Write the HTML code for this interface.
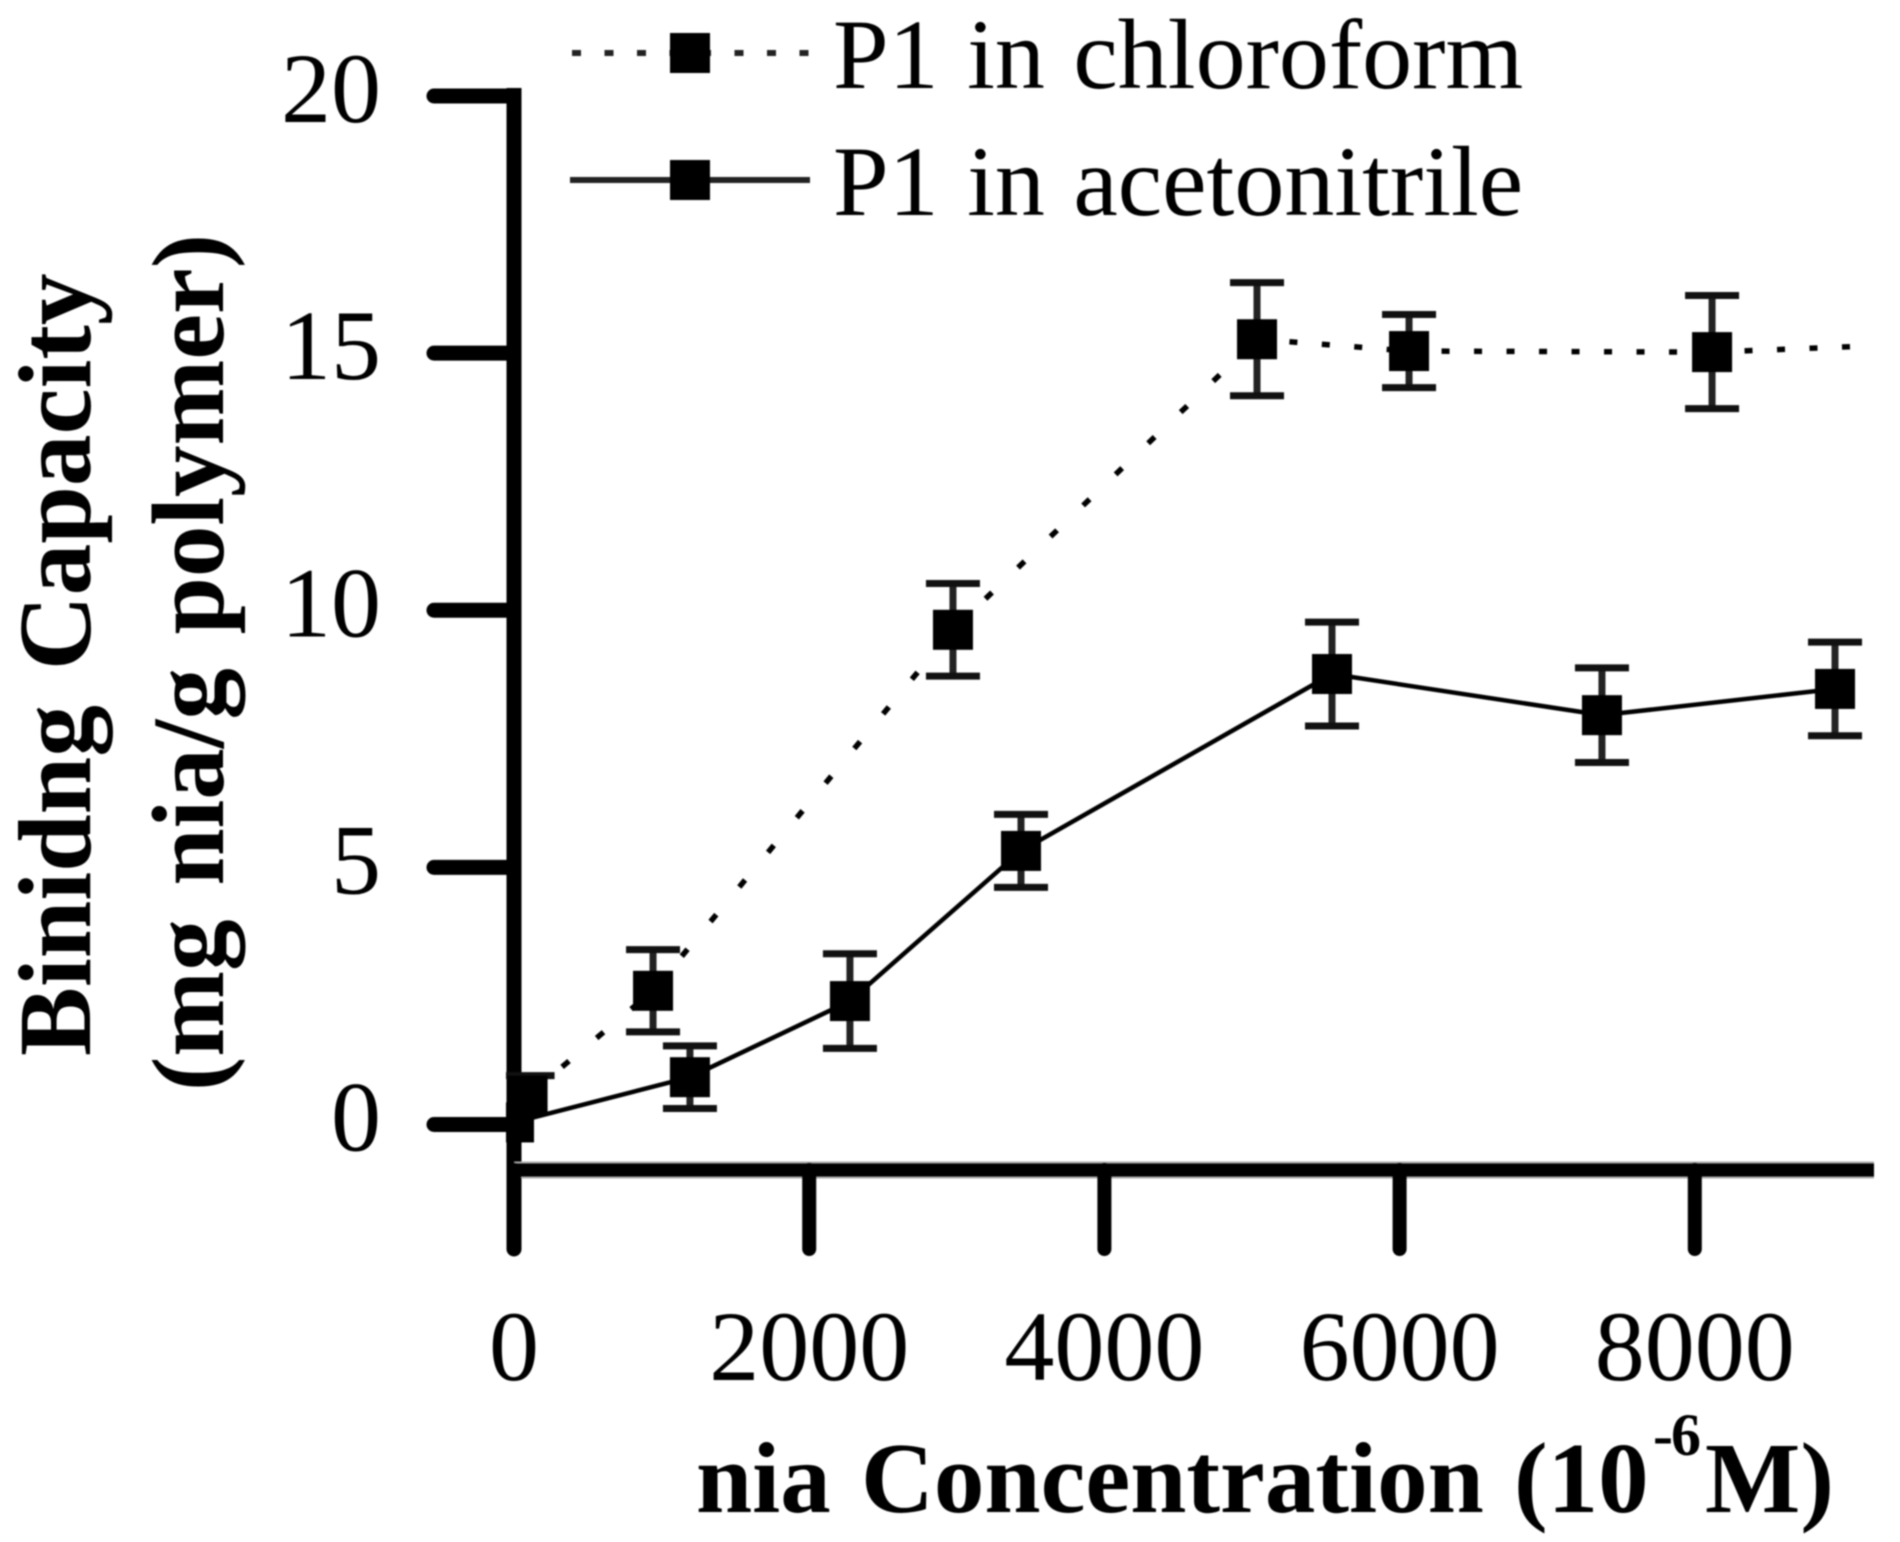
<!DOCTYPE html>
<html lang="en">
<head>
<meta charset="utf-8">
<title>Binding Capacity vs nia Concentration</title>
<style>
html,body{margin:0;padding:0;background:#fff;}
body{width:1900px;height:1542px;overflow:hidden;}
svg{display:block;filter:blur(0.9px);}
text{font-family:"Liberation Serif",serif;fill:#000;}
</style>
</head>
<body>
<svg id="chart" xmlns="http://www.w3.org/2000/svg" width="1900" height="1542" viewBox="0 0 1900 1542">
  <defs><clipPath id="plot-clip"><rect x="506" y="0" width="1362" height="1542"/></clipPath></defs>
  <g id="axes"></g>
  <g id="marks" clip-path="url(#plot-clip)"></g>

  <text transform="translate(90,1056) rotate(-90)" font-size="103.5" font-weight="bold" word-spacing="9">Binidng Capacity</text>
  <text transform="translate(223,1091) rotate(-90)" font-size="103" font-weight="bold" word-spacing="8">(mg nia/g polymer)</text>

  <text x="696" y="1512" font-size="101" font-weight="bold" word-spacing="5">nia Concentration (10</text>
  <text x="1653" y="1455" font-size="60" font-weight="bold" textLength="48" lengthAdjust="spacing">-6</text>
  <text x="1705" y="1512" font-size="101" font-weight="bold">M)</text>

  <g>
    <g>
      <line x1="572" y1="53" x2="809" y2="53" stroke="#222" stroke-width="6" stroke-dasharray="9 23.5"/>
      <rect x="670" y="33" width="40" height="40" fill="#000"/>
      <text x="833" y="88" font-size="100" word-spacing="3.5">P1 in chloroform</text>
    </g>
    <g>
      <line x1="570" y1="180" x2="810" y2="180" stroke="#222" stroke-width="6"/>
      <rect x="670" y="160" width="40" height="40" fill="#000"/>
      <text x="833" y="215" font-size="100" word-spacing="3.5">P1 in acetonitrile</text>
    </g>
  </g>
</svg>
<script>
// Chart data
const xTickValues = [0, 2000, 4000, 6000, 8000];
const yTickValues = [0, 5, 10, 15, 20];

const chloroformX = [92, 942, 2974, 5034, 6064, 8117, 9458];
const chloroformY = [0.56, 2.60, 9.62, 15.27, 15.04, 15.02, 15.17];
const chloroformErrUp = [0.39, 0.80, 0.90, 1.10, 0.71, 1.10, 0];
const chloroformErrDown = [0, 0.80, 0.90, 1.10, 0.71, 1.10, 0];

const acetonitrileX = [0, 1192, 2276, 3435, 5542, 7371, 8950];
const acetonitrileY = [0.04, 0.92, 2.40, 5.32, 8.76, 7.96, 8.47];
const acetonitrileErrUp = [0, 0.61, 0.92, 0.71, 1.01, 0.92, 0.91];
const acetonitrileErrDown = [0, 0.61, 0.92, 0.71, 1.01, 0.92, 0.91];

const NS = 'http://www.w3.org/2000/svg';
function sx(v) { return 514 + v * 0.1476; }
function sy(v) { return 1124.5 - v * 51.425; }
function make(tag, attrs, parent) {
  const el = document.createElementNS(NS, tag);
  for (const k in attrs) el.setAttribute(k, attrs[k]);
  parent.appendChild(el);
  return el;
}

const axes = document.getElementById('axes');
const marks = document.getElementById('marks');

// Axes
const yAxisLine = make('line', {x1: sx(0), y1: sy(20) - 8, x2: sx(0), y2: 1249, stroke: '#000', 'stroke-width': 15}, axes);


const yAxisEnd = make('line', {x1: sx(0), y1: 1240, x2: sx(0), y2: 1249, stroke: '#000', 'stroke-width': 15, 'stroke-linecap': 'round'}, axes);


const xAxisEdge = make('line', {x1: sx(0), y1: 1170, x2: 1874, y2: 1170, stroke: '#aaa', 'stroke-width': 17}, axes);


const xAxisLine = make('line', {x1: sx(0), y1: 1170, x2: 1874, y2: 1170, stroke: '#000', 'stroke-width': 13}, axes);



yTickValues.forEach(function (v) {
  const tick = make('line', {x1: 434, y1: sy(v), x2: sx(0), y2: sy(v), stroke: '#000', 'stroke-width': 15, 'stroke-linecap': 'round'}, axes);
  
  
  const label = make('text', {x: 381, y: sy(v) + 26, 'text-anchor': 'end', 'font-size': 100}, axes);
  label.textContent = String(v);
  
  
});

xTickValues.forEach(function (v) {
  const tick = make('line', {x1: sx(v), y1: 1170, x2: sx(v), y2: 1249, stroke: '#000', 'stroke-width': 14, 'stroke-linecap': 'round'}, axes);
  
  
  const label = make('text', {x: sx(v), y: 1380, 'text-anchor': 'middle', 'font-size': 100}, axes);
  label.textContent = String(v);
  
  
});

// Series
function drawSeries(key, xs, ys, errUp, errDown, dotted, lastHasMarker) {
  for (let i = 0; i < xs.length - 1; i++) {
    const x1 = sx(xs[i]), y1 = sy(ys[i]), x2 = sx(xs[i + 1]), y2 = sy(ys[i + 1]);
    const seg = make('line', {x1: x1, y1: y1, x2: x2, y2: y2, stroke: '#000', 'stroke-width': dotted ? 5.5 : 4.5}, marks);
    if (dotted) {
      const steep = Math.abs(y2 - y1) > Math.abs(x2 - x1) * 0.3;
      seg.setAttribute('stroke-dasharray', steep ? '9 36' : '8 24.5');
    }
    
    
  }
  for (let i = 0; i < xs.length; i++) {
    if (i === xs.length - 1 && !lastHasMarker) continue;
    const cx = sx(xs[i]), cy = sy(ys[i]), top = sy(ys[i] + errUp[i]), bottom = sy(ys[i] - errDown[i]);
    if (errUp[i] > 0 || errDown[i] > 0) {
      const stem = make('line', {x1: cx, y1: top, x2: cx, y2: bottom, stroke: '#222', 'stroke-width': 7}, marks);
      
      
    }
    if (errUp[i] > 0) {
      const capTop = make('line', {x1: cx - 27, y1: top, x2: cx + 27, y2: top, stroke: '#111', 'stroke-width': 7}, marks);
      
      
    }
    if (errDown[i] > 0) {
      const capBottom = make('line', {x1: cx - 27, y1: bottom, x2: cx + 27, y2: bottom, stroke: '#111', 'stroke-width': 7}, marks);
      
      
    }
    const point = make('rect', {x: cx - 20, y: cy - 20, width: 40, height: 40, fill: '#000'}, marks);
    
    
  }
}
drawSeries('chloroform', chloroformX, chloroformY, chloroformErrUp, chloroformErrDown, true, false);
drawSeries('acetonitrile', acetonitrileX, acetonitrileY, acetonitrileErrUp, acetonitrileErrDown, false, true);
</script>
</body>
</html>
